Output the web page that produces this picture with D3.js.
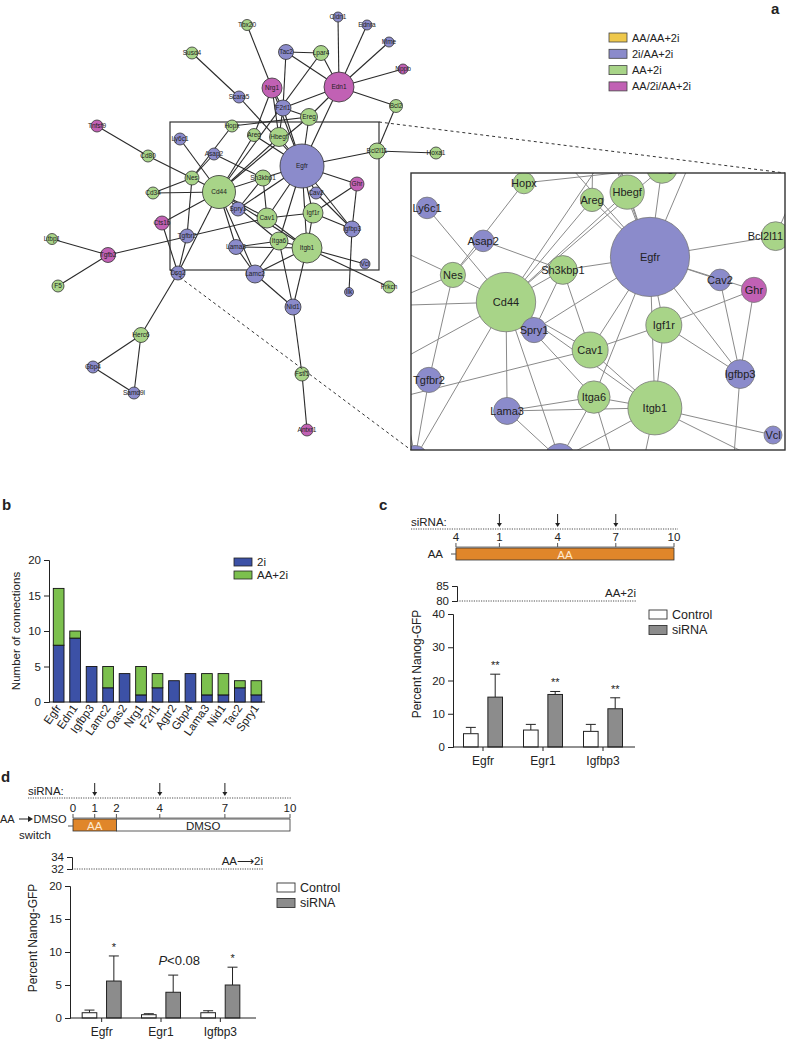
<!DOCTYPE html>
<html><head><meta charset="utf-8">
<script src="https://cdn.jsdelivr.net/npm/d3@7"></script>
<style>body{margin:0;background:#fff} svg{display:block} text{font-family:Arial,"Liberation Sans",Helvetica,sans-serif;fill:#222}</style>
</head><body><svg id="fig" width="788" height="1039"></svg>
<script>
// ---------------- DATA ----------------
// Panel a: network
const groupNames = ["AA/AA+2i","2i/AA+2i","AA+2i","AA/2i/AA+2i"];
const groupColors = ["#efc84b","#8b8bcb","#a8d488","#c161b4"];

const nodeNames = ["Egfr","Edn1","Nrg1","Tac2","Lpar4","Tbx20","Cldn1","Ednra","Mme","Nppb","Bcl2","F2rl1","Ereg","Scara5","Susd4","Hopx","Areg","Hbegf","Bcl2l11","Hoxa1","Asap2","Ly6c1","Tnfsf9","Cd80","Nes","Cd44","Cd34","Cts1b","Tgfbr2","Ltbp1","Tgfb2","F5","Dsg2","Sh3kbp1","Ghr","Cav2","Spry1","Cav1","Igf1r","Igfbp3","Lama3","Itga6","Itgb1","Vcl","Lamc2","Prkch","Ilk","Nid1","Herc6","Gbp4","Samd9l","Fstl1","Antxr1"];
const nodeGroup = [1,3,3,1,2,2,1,1,1,3,2,1,2,1,2,2,2,2,2,2,1,1,3,2,2,2,2,3,1,2,3,2,1,2,3,1,1,2,2,1,1,2,2,1,1,2,1,1,2,1,1,2,3];
const nodeX = [302,339,272,286,321,247,338,367,389,403,396,283,309,239,192,232,254,279,377,436,214,180,97,148,192,219,153,162,187,52,108,58,178,263,357,316,238,267,313,352,236,279,307,365,255,389,349,293,141,93,134,302,307];
const nodeY = [166,87,88,52,53,25,17,25,42,69,106,108,117,97,53,126,135,137,151,153,154,139,126,156,178,192,193,223,236,239,255,286,273,178,184,193,209,218,213,229,247,241,248,264,274,287,292,307,335,367,393,374,430];
const nodeSize = [22,15,10,7.5,7.5,5.5,5,5,5,5,6.5,8,8.5,6,6,6,6.5,9.5,8,6,6,6,6,6,7,16.5,6,7,7,5.5,7.5,6,7,8,7,6,7,10,10,8,7.5,9,15,5,9,6,4.5,8,7.5,6,6,7,6];

const edgeList = [
 ["Edn1","Cldn1"],["Edn1","Ednra"],["Edn1","Mme"],["Edn1","Nppb"],["Edn1","Bcl2"],["Edn1","Tac2"],["Edn1","Lpar4"],["Edn1","F2rl1"],["Edn1","Ereg"],["Edn1","Egfr"],
 ["Tac2","Lpar4"],["Tac2","F2rl1"],["Lpar4","Cd44"],
 ["Nrg1","Tbx20"],["Nrg1","Areg"],["Nrg1","Hbegf"],["Nrg1","Egfr"],["Nrg1","F2rl1"],
 ["Scara5","Susd4"],["Scara5","Egfr"],
 ["F2rl1","Hbegf"],["F2rl1","Egfr"],["F2rl1","Ereg"],
 ["Ereg","Hopx"],["Ereg","Egfr"],["Ereg","Cd44"],
 ["Hbegf","Egfr"],["Hbegf","Cd44"],["Areg","Egfr"],["Areg","Cd44"],
 ["Hopx","Nes"],["Bcl2l11","Egfr"],["Bcl2l11","Hoxa1"],["Bcl2l11","Bcl2"],
 ["Asap2","Nes"],["Asap2","Sh3kbp1"],["Ly6c1","Cd44"],["Tnfsf9","Cd80"],["Cd80","Nes"],
 ["Cd34","Nes"],["Cd34","Cd44"],["Nes","Cd44"],["Nes","Tgfbr2"],
 ["Cts1b","Cd44"],["Cts1b","Dsg2"],["Tgfbr2","Dsg2"],
 ["Tgfb2","Ltbp1"],["Tgfb2","F5"],["Tgfb2","Cav1"],
 ["Dsg2","Herc6"],["Dsg2","Cd44"],["Herc6","Gbp4"],["Herc6","Samd9l"],["Gbp4","Samd9l"],
 ["Sh3kbp1","Egfr"],["Sh3kbp1","Spry1"],["Sh3kbp1","Cav1"],["Sh3kbp1","Cd44"],
 ["Ghr","Egfr"],["Ghr","Igfbp3"],["Ghr","Igf1r"],["Cav2","Egfr"],["Cav2","Igfbp3"],
 ["Spry1","Egfr"],["Cav1","Egfr"],["Cav1","Igf1r"],["Cav1","Itgb1"],["Cav1","Cd44"],
 ["Igf1r","Egfr"],["Igf1r","Itgb1"],["Igf1r","Igfbp3"],["Igfbp3","Egfr"],["Igfbp3","Ilk"],
 ["Lama3","Itga6"],["Lama3","Itgb1"],["Lama3","Cd44"],["Lama3","Lamc2"],
 ["Itga6","Egfr"],["Itga6","Itgb1"],["Itga6","Lamc2"],["Itga6","Cd44"],
 ["Itgb1","Egfr"],["Itgb1","Vcl"],["Itgb1","Prkch"],["Itgb1","Lamc2"],["Itgb1","Nid1"],["Itgb1","Cd44"],
 ["Lamc2","Cd44"],["Lamc2","Nid1"],["Nid1","Itga6"],["Nid1","Fstl1"],["Fstl1","Antxr1"]
];

// inset layout (0-100 units within the inset frame)
const insetNames = ["Hopx","Areg","Hbegf","Ereg","Ly6c1","Asap2","Egfr","Bcl2l11","Nes","Cd44","Sh3kbp1","Cav2","Ghr","Spry1","Cav1","Igf1r","Igfbp3","Tgfbr2","Lama3","Itga6","Itgb1","Vcl","Dsg2","Lamc2"];
const insetU = [30.2,48.4,57.8,67.1,4.3,19.3,63.9,97.5,11.2,25.4,40.6,82.6,91.7,32.9,47.9,67.6,88.0,4.8,25.7,48.9,65.2,96.8,1.1,39.8];
const insetV = [3.6,9.7,6.9,-1.8,12.6,24.5,30.3,22.8,36.8,46.6,35.0,38.6,42.2,56.7,63.9,54.9,72.6,74.7,85.9,80.9,84.8,94.6,102.9,103.5];

// Panel b
const bGenes = ["Egfr","Edn1","Igfbp3","Lamc2","Oas2","Nrg1","F2rl1","Agtr2","Gbp4","Lama3","Nid1","Tac2","Spry1"];
const b2i   = [8,9,5,2,4,1,2,3,4,1,1,2,1];
const bAA2i = [8,1,0,3,0,4,2,0,0,3,3,1,2];
const bSeries = ["2i","AA+2i"];
const bTicks = [0,5,10,15,20];

// Panels c, d
const kdGenes = ["Egfr","Egr1","Igfbp3"];
const kdConds = ["Control","siRNA"];
const cTimeTicks = [-1.24,1,4,7,10];
const cTimeLabels = ["4","1","4","7","10"];
const cArrowDays = [1,4,7];
const cCtrl = [4.0,5.1,4.7], cCtrlErr = [1.9,1.7,2.1];
const cSi = [15.0,15.8,11.5], cSiErr = [6.9,0.9,3.3];
const cSig = ["**","**","**"];
const cRef = 80;
const cLowTicks = [0,10,20,30,40], cHighTicks = [80,85];

const dTimeTicks = [0,1,2,4,7,10];
const dArrowDays = [1,4,7];
const dCtrl = [0.8,0.5,0.8], dCtrlErr = [0.4,0.15,0.3];
const dSi = [5.6,3.9,5.0], dSiErr = [3.8,2.6,2.7];
const dSig = ["*","P<0.08","*"];
const dRef = 32;
const dLowTicks = [0,5,10,15,20], dHighTicks = [32,34];

// ---------------- DRAW ----------------
const svg = d3.select("#fig");
const ink = "#222";

function letter(t,x,y){svg.append("text").attr("x",x).attr("y",y).attr("font-size",15).attr("font-weight","bold").text(t);}
letter("a",771,14); letter("b",2,510); letter("c",379,510); letter("d",1,782);

// ---- Panel a ----
const nodes = nodeNames.map((n,i)=>({name:n,g:nodeGroup[i],x:nodeX[i],y:nodeY[i],r:nodeSize[i]}));
const byName = new Map(nodes.map(d=>[d.name,d]));
const edges = edgeList.map(([a,b])=>({s:byName.get(a),t:byName.get(b)}));
const ax = d3.scaleIdentity(), ay = d3.scaleIdentity();

const gA = svg.append("g");
gA.selectAll("line.e").data(edges).join("line")
  .attr("x1",d=>ax(d.s.x)).attr("y1",d=>ay(d.s.y)).attr("x2",d=>ax(d.t.x)).attr("y2",d=>ay(d.t.y))
  .attr("stroke","#2a2a2a").attr("stroke-width",1.1);
const frame = {x0:170,y0:122,x1:379,y1:270};
const inset = {x0:411,y0:173,x1:785,y1:450};
gA.append("rect").attr("x",frame.x0).attr("y",frame.y0).attr("width",frame.x1-frame.x0).attr("height",frame.y1-frame.y0)
  .attr("fill","none").attr("stroke","#333").attr("stroke-width",1.2);
gA.selectAll("circle.n").data(nodes).join("circle")
  .attr("cx",d=>ax(d.x)).attr("cy",d=>ay(d.y)).attr("r",d=>d.r)
  .attr("fill",d=>groupColors[d.g]).attr("stroke","#333").attr("stroke-width",0.8);
gA.selectAll("text.n").data(nodes).join("text")
  .attr("x",d=>ax(d.x)).attr("y",d=>ay(d.y)+2.2).attr("text-anchor","middle")
  .attr("font-size",6.5).attr("fill","#333").text(d=>d.name);

svg.append("line").attr("x1",frame.x1).attr("y1",frame.y0).attr("x2",inset.x1).attr("y2",inset.y0)
  .attr("stroke","#333").attr("stroke-width",1).attr("stroke-dasharray","3,3");
svg.append("line").attr("x1",frame.x0).attr("y1",frame.y1).attr("x2",inset.x0).attr("y2",inset.y1)
  .attr("stroke","#333").attr("stroke-width",1).attr("stroke-dasharray","3,3");

// inset
const mx = d3.scaleLinear().domain([frame.x0,frame.x1]).range([inset.x0,inset.x1]);
const my = d3.scaleLinear().domain([frame.y0,frame.y1]).range([inset.y0,inset.y1]);
const iu = d3.scaleLinear().domain([0,100]).range([inset.x0,inset.x1]);
const iv = d3.scaleLinear().domain([0,100]).range([inset.y0,inset.y1]);
const insetPos = new Map(insetNames.map((n,i)=>[n,[iu(insetU[i]),iv(insetV[i])]]));
function ipos(d){return insetPos.get(d.name) || [mx(d.x),my(d.y)];}
svg.append("defs").append("clipPath").attr("id","insetClip").append("rect")
  .attr("x",inset.x0).attr("y",inset.y0).attr("width",inset.x1-inset.x0).attr("height",inset.y1-inset.y0);
const gI = svg.append("g").attr("clip-path","url(#insetClip)");
gI.append("rect").attr("x",inset.x0).attr("y",inset.y0).attr("width",inset.x1-inset.x0).attr("height",inset.y1-inset.y0).attr("fill","#fff");
gI.selectAll("line").data(edges).join("line")
  .attr("x1",d=>ipos(d.s)[0]).attr("y1",d=>ipos(d.s)[1]).attr("x2",d=>ipos(d.t)[0]).attr("y2",d=>ipos(d.t)[1])
  .attr("stroke","#8a8a8a").attr("stroke-width",1);
const inNodes = nodes.filter(d=>insetPos.has(d.name));
gI.selectAll("circle").data(inNodes).join("circle")
  .attr("cx",d=>ipos(d)[0]).attr("cy",d=>ipos(d)[1]).attr("r",d=>d.r*1.8)
  .attr("fill",d=>groupColors[d.g]).attr("stroke","#777").attr("stroke-width",0.8);
gI.selectAll("text").data(inNodes).join("text")
  .attr("y",d=>ipos(d)[1]+4).attr("font-size",11).attr("fill","#222").text(d=>d.name)
  .each(function(d){
    const w = this.getComputedTextLength();
    let x = ipos(d)[0]-w/2;
    if(x+w>inset.x1-2) x = inset.x1-2-w;
    d3.select(this).attr("x",x);
  });
svg.append("rect").attr("x",inset.x0).attr("y",inset.y0).attr("width",inset.x1-inset.x0).attr("height",inset.y1-inset.y0)
  .attr("fill","none").attr("stroke","#333").attr("stroke-width",1.4);

// legend a
const la = svg.append("g");
groupNames.forEach((n,i)=>{
  la.append("rect").attr("x",609).attr("y",33+i*16.3).attr("width",18).attr("height",9)
    .attr("fill",groupColors[i]).attr("stroke","#444").attr("stroke-width",0.8);
  la.append("text").attr("x",632).attr("y",41.5+i*16.3).attr("font-size",11).attr("fill","#333").text(n);
});

// ---- Panel b ----
const bColors = ["#3c51a6","#7cc04e"];
const by = d3.scaleLinear().domain([0,20]).range([702,560]);
const bx = d3.scaleBand().domain(bGenes).range([50,265]).paddingInner(0.35).paddingOuter(0.2);
const gB = svg.append("g");
gB.append("g").attr("transform","translate(49,0)")
  .call(d3.axisLeft(by).tickValues(bTicks).tickSize(5).tickPadding(3).tickFormat(d3.format("d")))
  .call(g=>{g.selectAll("text").attr("font-size",11.5).attr("fill","#222").style("font-family","Arial");g.selectAll("line,path").attr("stroke",ink);});
gB.append("line").attr("x1",49).attr("x2",265).attr("y1",by(0)).attr("y2",by(0)).attr("stroke",ink);
bGenes.forEach((g,i)=>{
  gB.append("rect").attr("x",bx(g)).attr("width",bx.bandwidth()).attr("y",by(b2i[i])).attr("height",by(0)-by(b2i[i]))
    .attr("fill",bColors[0]).attr("stroke","#111").attr("stroke-width",0.9);
  if(bAA2i[i]>0) gB.append("rect").attr("x",bx(g)).attr("width",bx.bandwidth()).attr("y",by(b2i[i]+bAA2i[i])).attr("height",by(b2i[i])-by(b2i[i]+bAA2i[i]))
    .attr("fill",bColors[1]).attr("stroke","#111").attr("stroke-width",0.9);
  const cx = bx(g)+bx.bandwidth()/2;
  gB.append("text").attr("transform",`translate(${cx+3},${by(0)+6}) rotate(-55)`).attr("text-anchor","end")
    .attr("font-size",11.5).text(g);
});
gB.append("text").attr("transform","translate(20,631) rotate(-90)").attr("text-anchor","middle").attr("font-size",11.5).text("Number of connections");
bSeries.forEach((s,i)=>{
  gB.append("rect").attr("x",234).attr("y",558+i*13).attr("width",18).attr("height",8).attr("fill",bColors[i]).attr("stroke","#222").attr("stroke-width",0.8);
  gB.append("text").attr("x",257).attr("y",566+i*13).attr("font-size",11.5).text(s);
});

// ---- helpers for c/d ----
function arrow(g,x,y0,y1){
  g.append("line").attr("x1",x).attr("x2",x).attr("y1",y0).attr("y2",y1-3).attr("stroke",ink).attr("stroke-width",1);
  g.append("path").attr("d",`M${x-2.5},${y1-4}L${x+2.5},${y1-4}L${x},${y1}Z`).attr("fill",ink);
}
function kdPanel(o){
  const g = svg.append("g");
  g.append("text").attr("x",o.siX).attr("y",o.siY-3).attr("font-size",11.5).text("siRNA:");
  g.append("line").attr("x1",o.siX).attr("x2",o.siX1).attr("y1",o.siY).attr("y2",o.siY).attr("stroke",ink).attr("stroke-width",0.8).attr("stroke-dasharray","1.2,1.2");
  o.arrows.forEach(d=>arrow(g,o.t(d),o.siY-15,o.siY-2));
  g.append("line").attr("x1",o.t(o.ticks[0])).attr("x2",o.t(10)).attr("y1",o.axY).attr("y2",o.axY).attr("stroke","#555").attr("stroke-width",0.8);
  o.ticks.forEach((v,i)=>{
    g.append("line").attr("x1",o.t(v)).attr("x2",o.t(v)).attr("y1",o.axY).attr("y2",o.axY-4).attr("stroke","#555");
    g.append("text").attr("x",o.t(v)).attr("y",o.axY-6).attr("text-anchor","middle").attr("font-size",11.5).text(o.tickLabels[i]);
  });
  o.segments.forEach(s=>{
    g.append("rect").attr("x",o.t(s.a)).attr("width",o.t(s.b)-o.t(s.a)).attr("y",o.axY+1).attr("height",12)
      .attr("fill",s.fill).attr("stroke","#333").attr("stroke-width",0.8);
    g.append("text").attr("x",o.t((s.a+s.b)/2)).attr("y",o.axY+11.5).attr("text-anchor","middle").attr("font-size",11.5)
      .style("fill",s.tc).text(s.label);
  });
  const yHi = d3.scaleLinear().domain(o.hiDom).range(o.hiRange);
  const yLo = d3.scaleLinear().domain(o.loDom).range(o.loRange);
  const axHi = g.append("g").attr("transform",`translate(${o.yAxXHi},0)`).call(d3.axisLeft(yHi).tickValues(o.hiTicks).tickSize(5).tickPadding(3).tickFormat(d3.format("d")));
  const axLo = g.append("g").attr("transform",`translate(${o.yAxX},0)`).call(d3.axisLeft(yLo).tickValues(o.loTicks).tickSize(5).tickPadding(3).tickFormat(d3.format("d")));
  [axHi,axLo].forEach(a=>{a.selectAll("text").attr("font-size",11.5).attr("fill","#222").style("font-family","Arial");a.selectAll("line,path").attr("stroke",ink);});
  g.append("line").attr("x1",o.yAxXHi).attr("x2",o.refX1).attr("y1",yHi(o.ref)).attr("y2",yHi(o.ref)).attr("stroke",ink).attr("stroke-width",0.8).attr("stroke-dasharray","1.2,1.2");
  g.append("text").attr("x",o.refX1).attr("y",yHi(o.ref)-4).attr("text-anchor","end").attr("font-size",11.5).text(o.refLabel);
  const x0 = d3.scaleBand().domain(kdGenes).range(o.xRange);
  const x1 = d3.scaleBand().domain(kdConds).range([-19.5,19.5]).paddingInner(0.4);
  const fills = ["#ffffff","#8c8c8c"];
  kdGenes.forEach((gn,i)=>{
    const c = x0(gn)+x0.bandwidth()/2;
    [[o.ctrl[i],o.ctrlErr[i]],[o.si[i],o.siErr[i]]].forEach(([m,e],j)=>{
      const bx0 = c+x1(kdConds[j]), w=x1.bandwidth(), bc = bx0+w/2;
      g.append("line").attr("x1",bc).attr("x2",bc).attr("y1",yLo(m)).attr("y2",yLo(m+e)).attr("stroke",ink).attr("stroke-width",1);
      g.append("line").attr("x1",bc-5).attr("x2",bc+5).attr("y1",yLo(m+e)).attr("y2",yLo(m+e)).attr("stroke",ink).attr("stroke-width",1);
      g.append("rect").attr("x",bx0).attr("width",w).attr("y",yLo(m)).attr("height",yLo(0)-yLo(m))
        .attr("fill",fills[j]).attr("stroke","#222").attr("stroke-width",1);
      if(j===1){
        const s = o.sig[i];
        const t = g.append("text").attr("x",bc+(s.length>2?6:0)).attr("y",yLo(m+e)-(s.length>2?10:5)).attr("text-anchor","middle")
          .attr("font-size",s.length>2?13:11);
        if(s.startsWith("P")){t.append("tspan").style("font-style","italic").text("P");t.append("tspan").text(s.slice(1));}
        else t.text(s);
      }
    });
    g.append("line").attr("x1",c).attr("x2",c).attr("y1",yLo(0)).attr("y2",yLo(0)+4).attr("stroke",ink);
    g.append("text").attr("x",c).attr("y",yLo(0)+18).attr("text-anchor","middle").attr("font-size",12).text(gn);
  });
  g.append("line").attr("x1",o.yAxX).attr("x2",o.xAxEnd).attr("y1",yLo(0)).attr("y2",yLo(0)).attr("stroke",ink).attr("stroke-width",1);
  g.append("text").attr("transform",`translate(${o.ylabX},${o.ylabY}) rotate(-90)`).attr("text-anchor","middle").attr("font-size",12).text("Percent Nanog-GFP");
  kdConds.forEach((cn,i)=>{
    g.append("rect").attr("x",o.legX).attr("y",o.legY+i*15.5).attr("width",18).attr("height",9).attr("fill",fills[i]).attr("stroke","#333").attr("stroke-width",0.9);
    g.append("text").attr("x",o.legX+23).attr("y",o.legY+8.5+i*15.5).attr("font-size",12.5).text(cn);
  });
  return g;
}

// ---- Panel c ----
const tc = d3.scaleLinear().domain([0,10]).range([480,674]);
const gc = kdPanel({
  t:tc, ticks:cTimeTicks, tickLabels:cTimeLabels, arrows:cArrowDays,
  siX:411, siX1:678, siY:529, axY:547,
  segments:[{a:cTimeTicks[0],b:10,fill:"#e0862a",label:"AA",tc:"#fde9cf"}],
  hiDom:[80,85], hiRange:[601,586], hiTicks:cHighTicks, yAxXHi:457,
  loDom:[0,40], loRange:[747,614], loTicks:cLowTicks, yAxX:453,
  ref:cRef, refX1:636, refLabel:"AA+2i",
  xRange:[453,633], xAxEnd:635,
  ctrl:cCtrl, ctrlErr:cCtrlErr, si:cSi, siErr:cSiErr, sig:cSig,
  ylabX:421, ylabY:664, legX:649, legY:610
});
gc.append("text").attr("x",443).attr("y",558).attr("text-anchor","end").attr("font-size",11.5).text("AA");
gc.append("line").attr("x1",451).attr("x2",456).attr("y1",554).attr("y2",554).attr("stroke","#555");

// ---- Panel d ----
const td = d3.scaleLinear().domain([0,10]).range([73,290]);
const gd = kdPanel({
  t:td, ticks:dTimeTicks, tickLabels:dTimeTicks.map(String), arrows:dArrowDays,
  siX:28, siX1:291, siY:798, axY:818,
  segments:[{a:0,b:2,fill:"#e0862a",label:"AA",tc:"#fde9cf"},{a:2,b:10,fill:"#ffffff",label:"DMSO",tc:"#222"}],
  hiDom:[32,34], hiRange:[869,857], hiTicks:dHighTicks, yAxXHi:72,
  loDom:[0,20], loRange:[1018,886], loTicks:dLowTicks, yAxX:70,
  ref:dRef, refX1:263, refLabel:"AA\u27f62i",
  xRange:[72,250], xAxEnd:256,
  ctrl:dCtrl, ctrlErr:dCtrlErr, si:dSi, siErr:dSiErr, sig:dSig,
  ylabX:37, ylabY:938, legX:277, legY:883
});
gd.append("text").attr("x",0).attr("y",823).attr("font-size",11).text("AA");
gd.append("line").attr("x1",19).attr("x2",29).attr("y1",819).attr("y2",819).attr("stroke",ink).attr("stroke-width",1);
gd.append("path").attr("d","M28,816L33,819L28,822Z").attr("fill",ink);
gd.append("text").attr("x",33.5).attr("y",823).attr("font-size",11).text("DMSO");
gd.append("text").attr("x",35).attr("y",839).attr("text-anchor","middle").attr("font-size",11.5).text("switch");
gd.append("line").attr("x1",68).attr("x2",73).attr("y1",826).attr("y2",826).attr("stroke","#555");
</script></body></html>
